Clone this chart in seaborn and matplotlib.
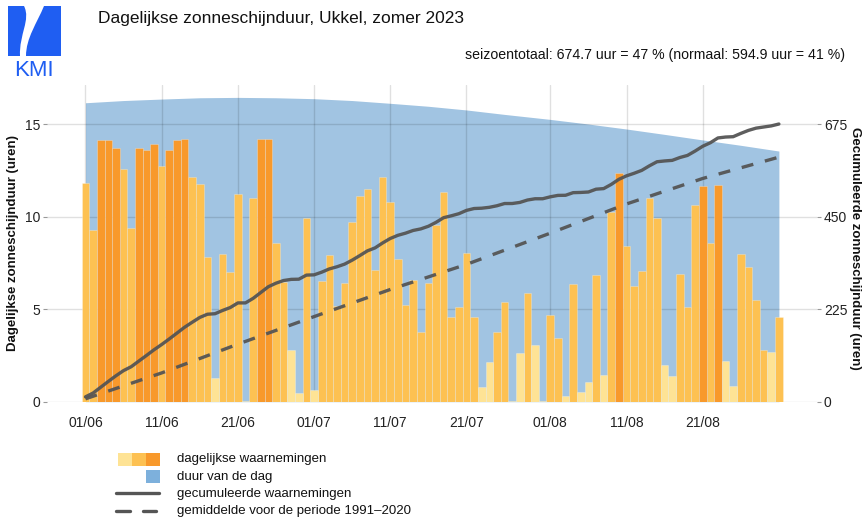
import numpy as np
import pandas as pd
import matplotlib
matplotlib.use("Agg")
import matplotlib.pyplot as plt
import seaborn as sns
from matplotlib.patches import Rectangle, PathPatch
from matplotlib.path import Path
from matplotlib.lines import Line2D

sns.set_style("white")
plt.rcParams['font.family'] = ['Liberation Sans', 'DejaVu Sans']

# ---------------- data ----------------
tick_days = [0, 10, 20, 30, 40, 50, 61, 71, 81]
tick_labels = ['01/06', '11/06', '21/06', '01/07', '11/07', '21/07', '01/08', '11/08', '21/08']

sunshine = [11.8, 9.28, 14.15, 14.15, 13.73, 12.6, 9.39, 13.73, 13.59, 13.95,
            12.74, 13.6, 14.15, 14.2, 12.13, 11.78, 7.8, 1.26, 8.0, 7.03,
            11.24, 0.05, 11.03, 14.18, 14.18, 8.56, 6.49, 2.79, 0.45, 9.93,
            0.63, 6.5, 7.91, 5.19, 6.43, 9.71, 11.12, 11.52, 7.14, 12.15,
            10.8, 7.71, 5.21, 6.58, 3.79, 6.4, 9.55, 11.35, 4.56, 5.1,
            8.06, 4.56, 0.78, 2.16, 3.79, 5.41, 0.05, 2.61, 5.86, 3.07,
            0.04, 4.7, 3.44, 0.31, 6.36, 0.54, 1.05, 6.83, 1.44, 10.25,
            12.38, 8.42, 6.25, 7.05, 11.03, 9.93, 1.98, 1.41, 6.9, 5.1,
            10.62, 11.66, 8.56, 11.7, 2.2, 0.85, 7.98, 7.3, 5.5, 2.79,
            2.69, 4.56]
sun_class = ['M', 'M', 'D', 'D', 'D', 'M', 'M', 'D', 'D', 'D',
             'M', 'D', 'D', 'D', 'M', 'M', 'M', 'L', 'M', 'M',
             'M', 'L', 'M', 'D', 'D', 'M', 'M', 'L', 'L', 'M',
             'L', 'M', 'M', 'M', 'M', 'M', 'M', 'M', 'M', 'M',
             'M', 'M', 'M', 'M', 'M', 'M', 'M', 'M', 'M', 'M',
             'M', 'M', 'L', 'L', 'M', 'M', 'L', 'L', 'M', 'L',
             'L', 'M', 'M', 'L', 'M', 'L', 'L', 'M', 'L', 'M',
             'D', 'M', 'M', 'M', 'M', 'M', 'L', 'L', 'M', 'M',
             'M', 'D', 'M', 'D', 'L', 'L', 'M', 'M', 'M', 'M',
             'L', 'M']

daylen_days = [0, 5, 10, 15, 20, 25, 30, 35, 40, 45, 50, 55, 61, 66, 71, 76, 81, 86, 91]
daylen_hours = [16.16, 16.28, 16.36, 16.43, 16.45, 16.43, 16.38, 16.28, 16.13, 15.97,
                15.77, 15.53, 15.26, 15.01, 14.74, 14.45, 14.15, 13.86, 13.55]

normal_days = [0, 10, 20, 30, 40, 50, 61, 71, 81, 91]
normal_cum = [7, 70, 140, 207, 273, 334, 410, 481, 543, 594.9]

# ---------------- colours ----------------
c_light, c_med, c_dark = '#FEE395', '#FDC152', '#F8992B'
c_blue = '#A1C4E2'
c_line = '#555555'
palette = {'L': c_light, 'M': c_med, 'D': c_dark}

days = np.arange(len(sunshine))
df = pd.DataFrame({'day': days, 'sun': sunshine, 'cls': sun_class})
cum = np.cumsum(sunshine)

W, H = 864, 522
fig = plt.figure(figsize=(W / 100, H / 100), dpi=100)
ax_l, ax_r, ax_t, ax_b = 47, 817, 85, 401.7
ax = fig.add_axes([ax_l / W, 1 - ax_b / H, (ax_r - ax_l) / W, (ax_b - ax_t) / H])

ymax = 17.12
ax.fill_between(daylen_days, 0, daylen_hours, color=c_blue, lw=0, zorder=0.2)
sns.barplot(data=df, x='day', y='sun', hue='cls', palette=palette, native_scale=True,
            dodge=False, width=1.0, errorbar=None, legend=False, ax=ax,
            edgecolor=(1, 1, 1, 0.3), linewidth=0.6, saturation=1, zorder=2)

ax.set_axisbelow(True)
ax.grid(True, color='black', alpha=0.12, linewidth=1.0)
ax.set_xlim(-5.05, 96.0)
ax.set_ylim(0, ymax)
ax.set_xticks(tick_days)
ax.set_xticklabels(tick_labels)
ax.set_yticks([0, 5, 10, 15])
ax.set_xlabel('')
ax.set_ylabel('')
ax.tick_params(axis='x', length=7, width=0.8, color='#c8c8c8', labelsize=10, pad=3, labelcolor='#222222')
ax.tick_params(axis='y', length=3, width=0.8, color='#999999', labelsize=10, pad=2, labelcolor='#222222')
for s in ax.spines.values():
    s.set_visible(False)

ax2 = ax.twinx()
sns.lineplot(x=days, y=cum, ax=ax2, color=c_line, linewidth=2.4, alpha=0.95)
sns.lineplot(x=normal_days, y=normal_cum, ax=ax2, color=c_line, linewidth=2.4, alpha=0.95)
ax2.lines[-1].set_dashes([3.6, 3.6])
ax2.set_ylim(0, ymax * 45)
ax2.set_yticks([0, 225, 450, 675])
ax2.set_xlim(-5.05, 96.0)
ax2.set_ylabel('')
ax2.grid(False)
ax2.tick_params(axis='y', length=3, width=0.8, color='#999999', labelsize=10, pad=2, labelcolor='#222222')
for s in ax2.spines.values():
    s.set_visible(False)

# ---------------- overlay (pixel coordinates) ----------------
ov = fig.add_axes([0, 0, 1, 1])
ov.set_xlim(0, W)
ov.set_ylim(H, 0)
ov.axis('off')
ov.patch.set_alpha(0)

ov.text(98, 18, 'Dagelijkse zonneschijnduur, Ukkel, zomer 2023', ha='left', va='center', fontsize=12.5, color='#111111')
ov.text(845, 55, 'seizoentotaal: 674.7 uur = 47 % (normaal: 594.9 uur = 41 %)', ha='right', va='center',
        fontsize=10.2, color='#111111')
ov.text(13, 243, 'Dagelijkse zonneschijnduur (uren)', rotation=90, ha='center', va='center',
        fontsize=9.5, fontweight='bold', color='#111111')
ov.text(855, 248, 'Gecumuleerde zonneschijnduur (uren)', rotation=270, ha='center', va='center',
        fontsize=9.5, fontweight='bold', color='#111111')

# logo
logo_blue = '#1F5EF2'
ov.add_patch(Rectangle((8, 6), 53, 50, color=logo_blue, lw=0))
verts = [(24, 6), (31, 20), (19, 34), (20, 56), (26, 56), (26, 38), (37, 23), (44, 6), (24, 6)]
codes = [Path.MOVETO, Path.CURVE4, Path.CURVE4, Path.CURVE4, Path.LINETO,
         Path.CURVE4, Path.CURVE4, Path.CURVE4, Path.CLOSEPOLY]
ov.add_patch(PathPatch(Path(verts, codes), facecolor='white', lw=0))
ov.text(34, 76, 'KMI', ha='center', va='baseline', fontsize=16, color=logo_blue)

# legend
ov.add_patch(Rectangle((118, 452.5), 14, 13, color=c_light, lw=0))
ov.add_patch(Rectangle((132, 452.5), 14, 13, color=c_med, lw=0))
ov.add_patch(Rectangle((146, 452.5), 14, 13, color=c_dark, lw=0))
ov.add_patch(Rectangle((146, 470), 14, 13, color='#7DB0DC', lw=0))
ov.add_line(Line2D([116, 159], [492.5, 492.5], color=c_line, lw=2.4))
ov.add_line(Line2D([116, 129.5], [510.5, 510.5], color=c_line, lw=2.4))
ov.add_line(Line2D([142.5, 155.5], [510.5, 510.5], color=c_line, lw=2.4))
leg_texts = ['dagelijkse waarnemingen', 'duur van de dag', 'gecumuleerde waarnemingen',
             'gemiddelde voor de periode 1991\u20132020']
for t, yy in zip(leg_texts, [459, 477, 493.5, 511]):
    ov.text(177, yy, t, ha='left', va='center', fontsize=9.5, color='#111111')

fig.savefig('out.png', dpi=100)
